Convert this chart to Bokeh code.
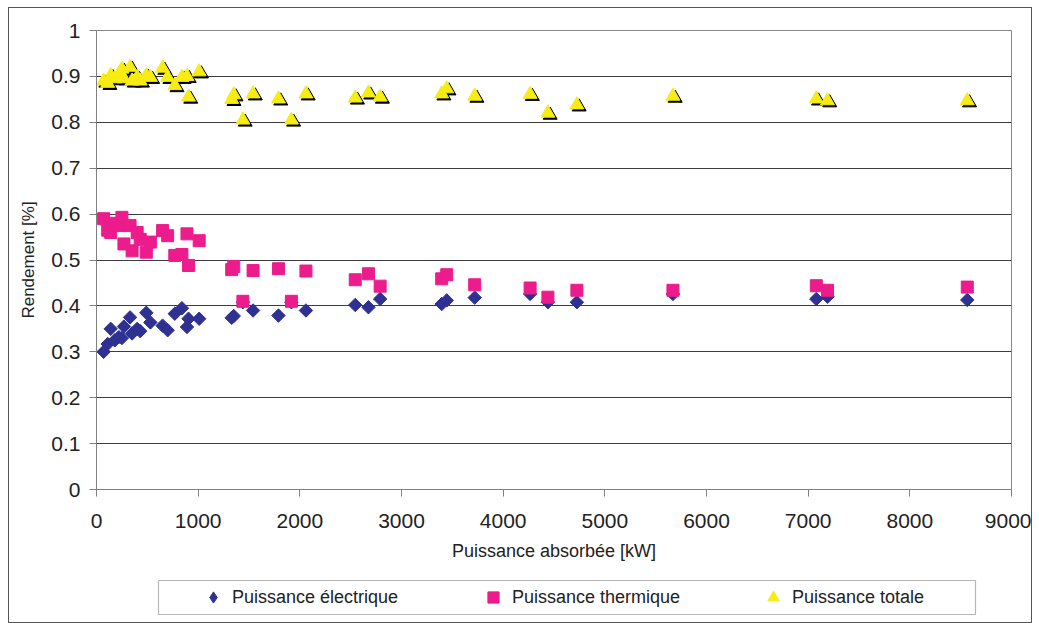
import math
from bokeh.plotting import figure
from bokeh.layouts import column
from bokeh.models import ColumnDataSource, FixedTicker, Legend, LegendItem, BoxAnnotation
from bokeh.transform import dodge
from bokeh.embed import file_html
from bokeh.resources import INLINE

# ---- data ----
puissance_kw = [70, 110, 140, 180, 220, 250, 270, 330, 350, 400, 430, 490, 530, 650, 700,
                770, 840, 890, 905, 1010, 1330, 1350, 1440, 1540, 1790, 1917, 2060, 2545,
                2675, 2790, 3395, 3445, 3720, 4265, 4440, 4725, 5670, 7080, 7190, 8565]
rend_electrique = [0.300, 0.317, 0.350, 0.325, 0.332, 0.330, 0.355, 0.375, 0.340, 0.350,
                   0.345, 0.385, 0.364, 0.357, 0.347, 0.383, 0.395, 0.354, 0.372, 0.372,
                   0.374, 0.378, 0.408, 0.390, 0.379, 0.408, 0.390, 0.402, 0.397, 0.415,
                   0.404, 0.412, 0.418, 0.426, 0.408, 0.408, 0.426, 0.415, 0.420, 0.413]
rend_thermique = [0.590, 0.565, 0.560, 0.580, 0.575, 0.593, 0.535, 0.575, 0.520, 0.560,
                  0.545, 0.517, 0.539, 0.564, 0.553, 0.510, 0.512, 0.557, 0.488, 0.542,
                  0.479, 0.486, 0.410, 0.477, 0.481, 0.410, 0.476, 0.457, 0.470, 0.443,
                  0.459, 0.468, 0.446, 0.439, 0.419, 0.434, 0.434, 0.444, 0.434, 0.441]
rend_total = [0.890, 0.885, 0.902, 0.895, 0.905, 0.916, 0.895, 0.920, 0.890, 0.898,
              0.890, 0.902, 0.898, 0.918, 0.898, 0.880, 0.898, 0.900, 0.855, 0.910,
              0.850, 0.860, 0.805, 0.862, 0.851, 0.805, 0.862, 0.853, 0.864, 0.855,
              0.862, 0.873, 0.857, 0.861, 0.820, 0.838, 0.857, 0.851, 0.847, 0.847]
x_ticks = [0, 1000, 2000, 3000, 4000, 5000, 6000, 7000, 8000, 9000]
y_ticks = [0, 0.1, 0.2, 0.3, 0.4, 0.5, 0.6, 0.7, 0.8, 0.9, 1.0]
y_tick_labels = ["0", "0.1", "0.2", "0.3", "0.4", "0.5", "0.6", "0.7", "0.8", "0.9", "1"]
series_names = ["Puissance électrique", "Puissance thermique", "Puissance totale"]

BLUE = "#2E3192"
PINK = "#EC1C8C"
YELLOW = "#F7EC13"
FONT = "Liberation Sans"
TXT = "#222222"

src = ColumnDataSource(dict(x=puissance_kw, e=rend_electrique, t=rend_thermique, tot=rend_total))

# ---------------- main chart ----------------
p = figure(width=1022, height=565, output_backend="svg", toolbar_location=None,
           x_range=(0, 9000), y_range=(0, 1))
p.min_border = 0
p.min_border_left = 87
p.min_border_right = 20
p.min_border_top = 22
p.min_border_bottom = 84
p.background_fill_color = "white"
p.border_fill_color = "white"
p.outline_line_color = "#888888"

p.xgrid.visible = False
p.ygrid.grid_line_color = "#3c3c3c"
p.ygrid.grid_line_width = 1

p.xaxis.ticker = FixedTicker(ticks=x_ticks)
p.yaxis.ticker = FixedTicker(ticks=y_ticks)
p.yaxis.major_label_overrides = {v: s for v, s in zip(y_ticks, y_tick_labels)}
for ax in (p.xaxis[0], p.yaxis[0]):
    ax.axis_line_color = "#808080"
    ax.major_tick_line_color = "#808080"
    ax.minor_tick_line_color = None
    ax.major_tick_in = 0
    ax.major_tick_out = 7
    ax.major_label_text_font = FONT
    ax.major_label_text_font_size = "21px"
    ax.major_label_text_color = TXT
    ax.axis_label_text_font = FONT
    ax.axis_label_text_font_style = "normal"
    ax.axis_label_text_color = TXT

p.xaxis.axis_label = "Puissance absorbée [kW]"
p.xaxis.axis_label_text_font_size = "18px"
p.xaxis.major_label_standoff = 17
p.xaxis.axis_label_standoff = 10
p.yaxis.axis_label = "Rendement [%]"
p.yaxis.axis_label_text_font_size = "17px"
p.yaxis.major_label_standoff = 9
p.yaxis.axis_label_standoff = 10

p.scatter("x", "e", source=src, marker="square", angle=math.pi / 4, size=9.5,
          fill_color=BLUE, line_color=BLUE)
p.scatter("x", "t", source=src, marker="square", size=12,
          fill_color=PINK, line_color=PINK)
p.scatter(x=dodge("x", 22), y=dodge("tot", -0.0045), source=src, marker="triangle",
          size=14, fill_color="black", line_color="black")
p.scatter("x", "tot", source=src, marker="triangle", size=14,
          fill_color=YELLOW, line_color=YELLOW)

# ---------------- legend strip ----------------
# the strip's ranges exclude the data, so its renderers only feed the legend swatches
lf = figure(width=1022, height=49, output_backend="svg", toolbar_location=None,
            x_range=(-2, -1), y_range=(-2, -1), x_axis_location=None, y_axis_location=None)
lf.min_border = 0
lf.grid.visible = False
lf.outline_line_color = None
lf.background_fill_color = "white"
lf.border_fill_color = "white"

le = lf.scatter("x", "e", source=src, marker="diamond", fill_color=BLUE, line_color=BLUE)
lt = lf.scatter("x", "t", source=src, marker="square", fill_color=PINK, line_color=PINK)
lo = lf.scatter("x", "tot", source=src, marker="triangle", fill_color=YELLOW, line_color=YELLOW)
legend = Legend(items=[LegendItem(label=series_names[0], renderers=[le]),
                       LegendItem(label=series_names[1], renderers=[lt]),
                       LegendItem(label=series_names[2], renderers=[lo])],
                orientation="horizontal", location=(103, 11),
                padding=0, spacing=68, label_width=179,
                label_standoff=5, glyph_width=28, glyph_height=28,
                border_line_alpha=0, background_fill_alpha=0,
                label_text_font=FONT, label_text_font_size="18px", label_text_color=TXT)
lf.add_layout(legend, "center")
lf.add_layout(BoxAnnotation(left=149, right=966, top=7, bottom=41,
                            left_units="canvas", right_units="canvas",
                            top_units="canvas", bottom_units="canvas",
                            fill_alpha=0, line_color="#111111", line_width=1.2))

layout = column(p, lf, spacing=0, margin=(7, 0, 0, 8),
                styles={"border": "1px solid #555555"})

open("out.html", "w").write(file_html(layout, INLINE))
